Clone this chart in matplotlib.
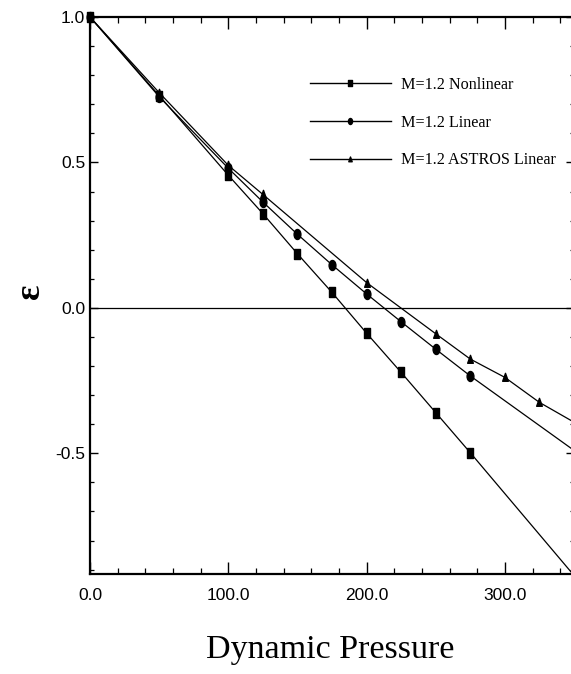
import matplotlib
matplotlib.use("Agg")
import matplotlib.pyplot as plt
from matplotlib.path import Path
from matplotlib.transforms import Affine2D
from matplotlib.ticker import MultipleLocator, FixedLocator, FixedFormatter

# ---- data ----
q_nonlinear = [0, 50, 100, 125, 150, 175, 200, 225, 250, 275, 350]
eps_nonlinear = [1.0, 0.73, 0.456, 0.324, 0.186, 0.053, -0.087, -0.222, -0.36, -0.498, -0.92]

q_linear = [0, 50, 100, 125, 150, 175, 200, 225, 250, 275, 350]
eps_linear = [1.0, 0.726, 0.48, 0.364, 0.253, 0.148, 0.048, -0.048, -0.142, -0.234, -0.49]

q_astros = [0, 50, 100, 125, 200, 250, 275, 300, 325, 350]
eps_astros = [1.0, 0.74, 0.49, 0.39, 0.087, -0.089, -0.176, -0.239, -0.325, -0.393]

labels = ["M=1.2 Nonlinear", "M=1.2 Linear", "M=1.2 ASTROS Linear"]
x_ticks = [0, 100, 200, 300]
x_ticklabels = ["0.0", "100.0", "200.0", "300.0"]
y_ticks = [-0.5, 0.0, 0.5, 1.0]
y_ticklabels = ["-0.5", "0.0", "0.5", "1.0"]

# ---- figure ----
W, H = 571, 674
fig = plt.figure(figsize=(W / 100, H / 100), dpi=100)
left, right, top, bottom = 90, 574, 17, 574
ax = fig.add_axes([left / W, 1 - bottom / H, (right - left) / W, (bottom - top) / H])

# elongated markers (reference is vertically stretched)
sq = Path([(-0.62, -1), (0.62, -1), (0.62, 1), (-0.62, 1), (-0.62, -1)],
          [Path.MOVETO, Path.LINETO, Path.LINETO, Path.LINETO, Path.CLOSEPOLY])
circ = Affine2D().scale(0.68, 1.0).transform_path(Path.unit_circle())
tri = Path([(-0.75, -1), (0.75, -1), (0, 1.1), (-0.75, -1)],
           [Path.MOVETO, Path.LINETO, Path.LINETO, Path.CLOSEPOLY])

lw = 0.9
ax.plot(q_nonlinear, eps_nonlinear, color="black", lw=lw, marker=sq, ms=6.5,
        markevery=list(range(len(q_nonlinear) - 1)), label=labels[0], clip_on=False,
        zorder=2.2)
ax.plot(q_linear, eps_linear, color="black", lw=lw, marker=circ, ms=7.2,
        markevery=list(range(len(q_linear) - 1)), label=labels[1], clip_on=False,
        zorder=2.6)
ax.plot(q_astros, eps_astros, color="black", lw=lw, marker=tri, ms=6,
        markevery=list(range(len(q_astros) - 1)), label=labels[2], clip_on=False,
        zorder=2.4)

ax.axhline(0.0, color="black", lw=0.9)

ax.set_xlim(0, 350)
ax.set_ylim(-0.915, 1.0)

ax.xaxis.set_major_locator(FixedLocator(x_ticks))
ax.xaxis.set_major_formatter(FixedFormatter(x_ticklabels))
ax.xaxis.set_minor_locator(MultipleLocator(20))
ax.yaxis.set_major_locator(FixedLocator(y_ticks))
ax.yaxis.set_major_formatter(FixedFormatter(y_ticklabels))
ax.yaxis.set_minor_locator(MultipleLocator(0.1))

tick_font = ["Liberation Sans Narrow", "Liberation Sans", "DejaVu Sans"]
ax.tick_params(axis="x", which="major", direction="in", length=8.5, width=1.0,
               top=True, bottom=True, pad=10, labelsize=12.5)
ax.tick_params(axis="x", which="minor", direction="in", length=4.3, width=0.9,
               top=True, bottom=True)
ax.tick_params(axis="y", which="major", direction="in", length=5.5, width=1.0,
               left=True, right=True, pad=3.5, labelsize=12.5)
ax.tick_params(axis="y", which="minor", direction="in", length=3, width=0.9,
               left=True, right=True)
for lab in ax.get_xticklabels() + ax.get_yticklabels():
    lab.set_family(tick_font)

for s in ["left", "bottom", "top"]:
    ax.spines[s].set_linewidth(1.6)
ax.spines["right"].set_linewidth(1.0)

serif = ["Liberation Serif", "DejaVu Serif"]
fig.text(330 / W, 1 - 650 / H, "Dynamic Pressure",
         ha="center", va="center", fontsize=24.5, family=serif)
fig.text(30.5 / W, 1 - 291 / H, "ε", rotation=90, ha="center", va="center",
         fontsize=26, family=serif, fontweight="bold")

leg = ax.legend(loc="upper left", bbox_to_anchor=(310 / W, 1 - 77 / H),
                bbox_transform=fig.transFigure, frameon=False, borderpad=0,
                borderaxespad=0, handlelength=5.0, handletextpad=0.65,
                labelspacing=1.35, markerscale=0.6,
                prop={"family": serif, "size": 11.6})
for h in leg.legend_handles:
    h.set_linewidth(1.0)

fig.savefig("out.png", dpi=100)
